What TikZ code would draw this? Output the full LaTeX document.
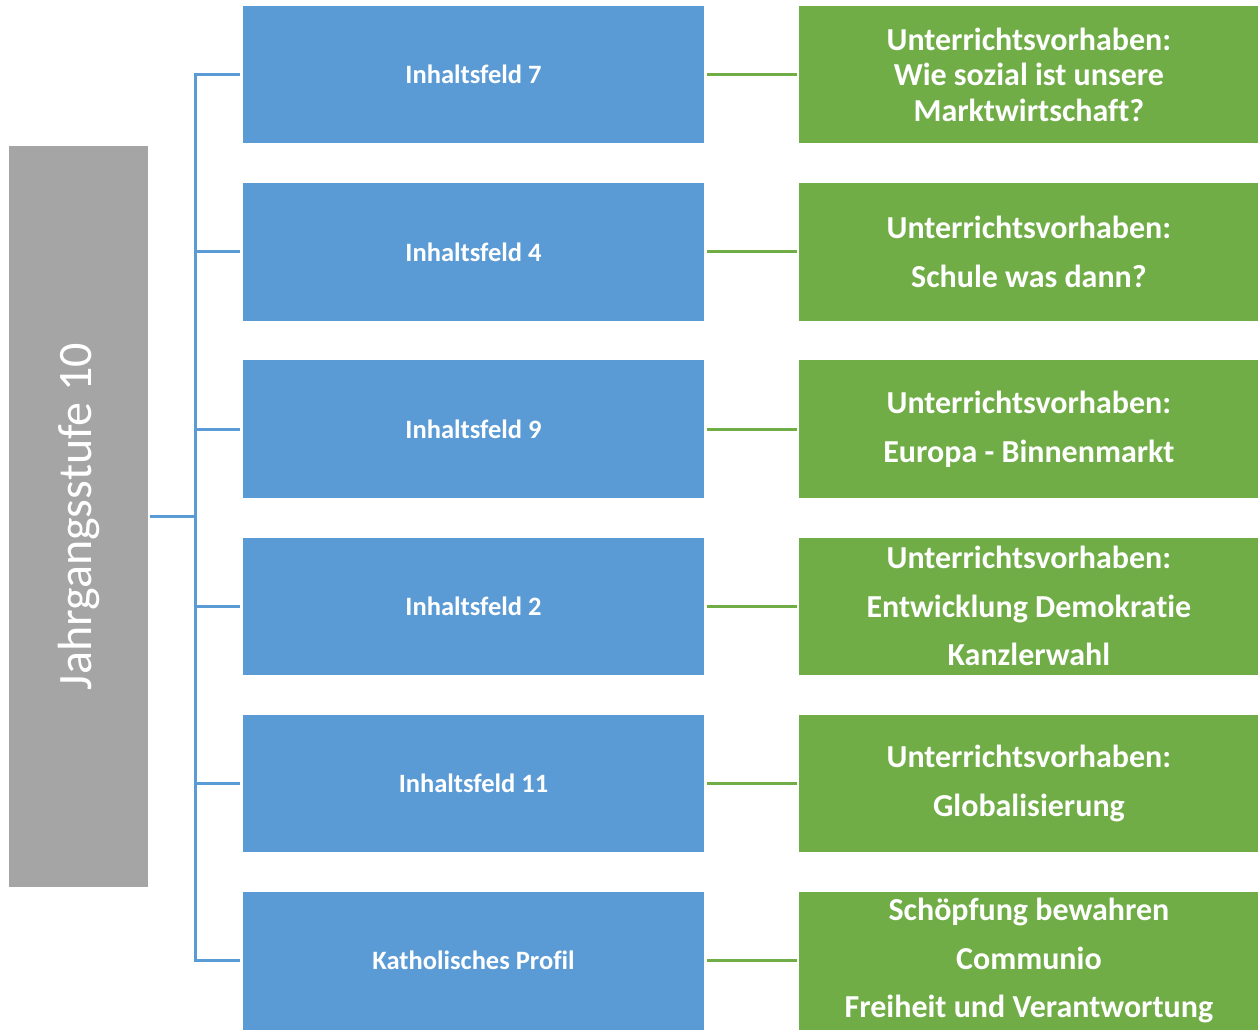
\documentclass[tikz,border=0pt]{standalone}
\usepackage{fontspec}
\usepackage{graphicx}
\setmainfont{Carlito}[Ligatures=NoCommon]
\usetikzlibrary{positioning}
\definecolor{feldblue}{HTML}{5B9BD5}
\definecolor{vorhgreen}{HTML}{70AD47}
\definecolor{stufegray}{HTML}{A5A5A5}

\tikzset{
  feld/.style={fill=feldblue, text=white, font=\bfseries\fontsize{26.5}{30}\selectfont,
    minimum width=461pt, minimum height=137.5pt, inner sep=0pt},
  vorhaben/.style={fill=vorhgreen, text=white, font=\bfseries\fontsize{32}{48.5}\selectfont,
    minimum width=459pt, minimum height=137.5pt, inner sep=0pt, align=center},
  stufe/.style={fill=stufegray, text=white, font=\fontsize{48}{54}\selectfont,
    minimum width=139pt, minimum height=741pt, inner sep=0pt},
  bluelink/.style={draw=feldblue, line width=3pt},
  greenlink/.style={draw=vorhgreen, line width=3pt, shorten <=3pt, shorten >=2pt},
}

\begin{document}
\begin{tikzpicture}[x=1pt, y=-1pt]
  \useasboundingbox (0, 0) rectangle (1258, 1032);

  % left column
  \node [stufe] (jahr) at (78.5, 516.5) {\rotatebox{90}{Jahrgangsstufe 10}};

  % Inhaltsfelder
  \node [feld] (if7) at (473.5, 74.75) {Inhaltsfeld 7};
  \node [feld, below=39.3pt of if7] (if4) {Inhaltsfeld 4};
  \node [feld, below=39.3pt of if4] (if9) {Inhaltsfeld 9};
  \node [feld, below=39.3pt of if9] (if2) {Inhaltsfeld 2};
  \node [feld, below=39.3pt of if2] (if11) {Inhaltsfeld 11};
  \node [feld, below=39.3pt of if11] (kp) {Katholisches Profil};

  % Unterrichtsvorhaben
  \node [vorhaben, right=95pt of if7, font=\bfseries\fontsize{32}{35.5}\selectfont] (uv7)
    {Unterrichtsvorhaben:\\Wie sozial ist unsere\\Marktwirtschaft?};
  \node [vorhaben, right=95pt of if4] (uv4) {Unterrichtsvorhaben:\\Schule was dann?};
  \node [vorhaben, right=95pt of if9] (uv9) {Unterrichtsvorhaben:\\Europa - Binnenmarkt};
  \node [vorhaben, right=95pt of if2] (uv2)
    {Unterrichtsvorhaben:\\Entwicklung Demokratie\\Kanzlerwahl};
  \node [vorhaben, right=95pt of if11] (uv11) {Unterrichtsvorhaben:\\Globalisierung};
  \node [vorhaben, right=95pt of kp] (uvkp)
    {Schöpfung bewahren\\Communio\\Freiheit und Verantwortung};

  % connectors
  \coordinate (bus) at (195, 516.5);
  \draw [bluelink, shorten <=2pt] (jahr.east) -- (bus);
  \draw [bluelink, shorten <=3pt, shorten >=3pt]
    (if7.west) -- (if7.west -| bus) -- (kp.west -| bus) -- (kp.west);
  \foreach \f in {if4, if9, if2, if11}
    \draw [bluelink, shorten >=3pt] (\f.west -| bus) -- (\f.west);

  \draw [greenlink] (if7.east) -- (uv7.west);
  \draw [greenlink] (if4.east) -- (uv4.west);
  \draw [greenlink] (if9.east) -- (uv9.west);
  \draw [greenlink] (if2.east) -- (uv2.west);
  \draw [greenlink] (if11.east) -- (uv11.west);
  \draw [greenlink] (kp.east) -- (uvkp.west);
\end{tikzpicture}
\end{document}
